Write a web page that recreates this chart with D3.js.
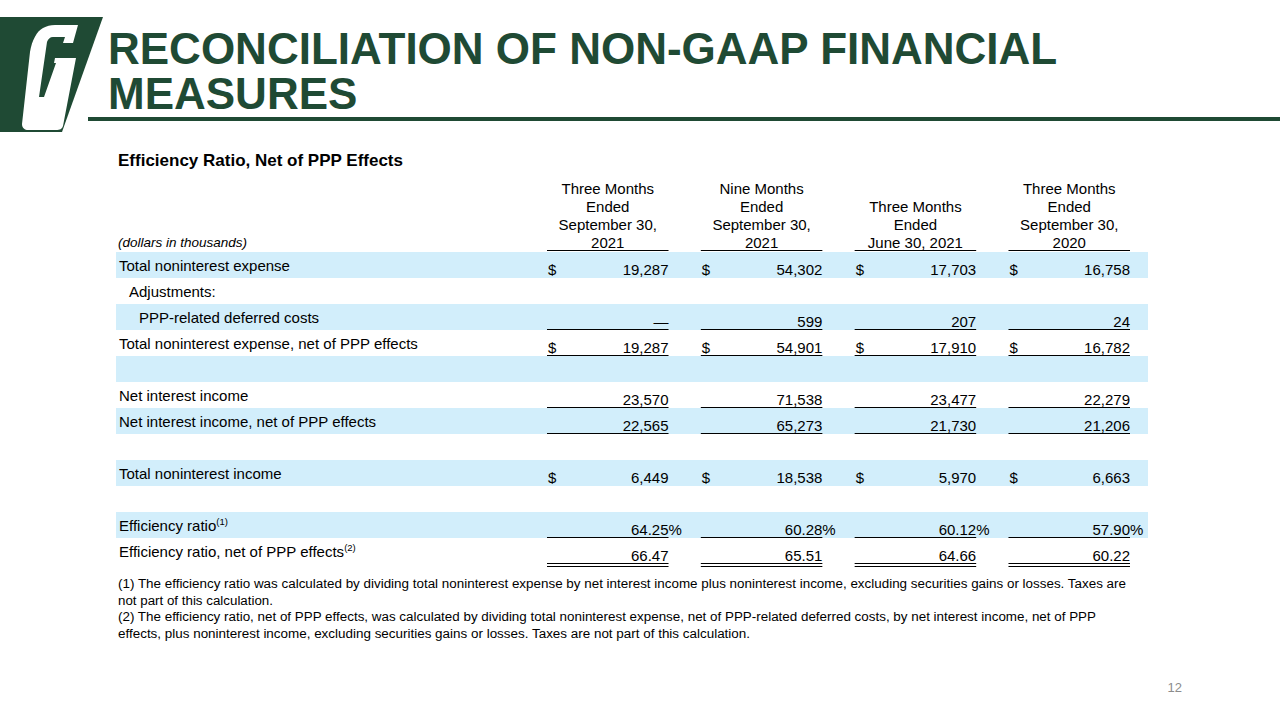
<!DOCTYPE html>
<html lang="en">
<head>
    <meta charset="UTF-8">
    <script src="https://d3js.org/d3.v7.min.js"></script>
    <style>
        body { margin: 0; background: #fff; font-family: "Liberation Sans", Arial, sans-serif; }
    </style>
</head>
<body>
    <svg id="chart" width="1280" height="720"></svg>
    <script>
        // column headers
        const periods = [
            ["Three Months", "Ended", "September 30,", "2021"],
            ["Nine Months", "Ended", "September 30,", "2021"],
            ["Three Months", "Ended", "June 30, 2021"],
            ["Three Months", "Ended", "September 30,", "2020"]
        ];

        const rowLabels = [
            "Total noninterest expense",
            "Adjustments:",
            "PPP-related deferred costs",
            "Total noninterest expense, net of PPP effects",
            "",
            "Net interest income",
            "Net interest income, net of PPP effects",
            "",
            "Total noninterest income",
            "",
            "Efficiency ratio",
            "Efficiency ratio, net of PPP effects"
        ];

        // dollars in thousands
        const totalNoninterestExpense = [19287, 54302, 17703, 16758];
        const pppDeferredCosts = [null, 599, 207, 24];
        const totalExpenseNetPPP = [19287, 54901, 17910, 16782];
        const netInterestIncome = [23570, 71538, 23477, 22279];
        const netInterestIncomeNetPPP = [22565, 65273, 21730, 21206];
        const totalNoninterestIncome = [6449, 18538, 5970, 6663];
        const efficiencyRatio = [64.25, 60.28, 60.12, 57.90];
        const efficiencyRatioNetPPP = [66.47, 65.51, 64.66, 60.22];

        const footnotes = [
            "(1) The efficiency ratio was calculated by dividing total noninterest expense by net interest income plus noninterest income, excluding securities gains or losses. Taxes are",
            "not part of this calculation.",
            "(2) The efficiency ratio, net of PPP effects, was calculated by dividing total noninterest expense, net of PPP-related deferred costs, by net interest income, net of PPP",
            "effects, plus noninterest income, excluding securities gains or losses. Taxes are not part of this calculation."
        ];

        const green = "#1f4a34";
        const blue = "#d2eefb";
        const font = "'Liberation Sans', Arial, sans-serif";

        const rows = [
            { values: totalNoninterestExpense, dollar: true },
            { indent: 10 },
            { indent: 20, values: pppDeferredCosts, under: 1 },
            { values: totalExpenseNetPPP, dollar: true, under: 1 },
            {},
            { values: netInterestIncome, under: 1 },
            { values: netInterestIncomeNetPPP, under: 1 },
            {},
            { values: totalNoninterestIncome, dollar: true },
            {},
            { values: efficiencyRatio, pct: true, under: 1, sup: "(1)" },
            { values: efficiencyRatioNetPPP, ratio: true, under: 2, sup: "(2)" }
        ].map((r, i) => ({ label: rowLabels[i], ...r }));

        const svg = d3.select("#chart");

        // logo
        const logo = svg.append("g");
        logo.append("path")
            .attr("d", "M0,17 L103,17 L62,132 L0,132 Z")
            .attr("fill", green);
        logo.append("path")
            .attr("d", "M43,28 C47,26 50,25 55,25 L78,25 L73,43 L63,43 L65,37 L53,37 C50,37 48,39 47,42 L39,97 L44,97 L56,63 L54,63 L55,58 L76,58 L63,126 C62,129 60,130 56,130 L28,130 C25,130 22,128 22,124 L30,52 C32,40 37,31 43,28 Z")
            .attr("fill", "#fff");

        // title
        svg.append("text")
            .attr("x", 108).attr("y", 64)
            .style("font", `bold 44px ${font}`)
            .attr("fill", green)
            .text("RECONCILIATION OF NON-GAAP FINANCIAL");
        svg.append("text")
            .attr("x", 108).attr("y", 109)
            .style("font", `bold 44px ${font}`)
            .attr("fill", green)
            .text("MEASURES");
        svg.append("rect")
            .attr("x", 88).attr("y", 117)
            .attr("width", 1192).attr("height", 4)
            .attr("fill", green);

        svg.append("text")
            .attr("x", 118).attr("y", 166)
            .style("font", `bold 17px ${font}`)
            .text("Efficiency Ratio, Net of PPP Effects");

        svg.append("text")
            .attr("x", 118).attr("y", 247)
            .style("font", `italic 13.5px ${font}`)
            .text("(dollars in thousands)");

        // scales
        const y = d3.scaleBand()
            .domain(d3.range(rows.length))
            .range([252, 564]);

        const x = d3.scaleBand()
            .domain(d3.range(periods.length))
            .range([547, 1130])
            .paddingInner(0.21);

        // header
        const lineH = 18;
        periods.forEach((lines, c) => {
            const cx = x(c) + x.bandwidth() / 2;
            lines.forEach((t, k) => {
                svg.append("text")
                    .attr("x", cx)
                    .attr("y", 248 - (lines.length - 1 - k) * lineH)
                    .attr("text-anchor", "middle")
                    .style("font", `15px ${font}`)
                    .text(t);
            });
            svg.append("line")
                .attr("x1", x(c)).attr("x2", x(c) + x.bandwidth())
                .attr("y1", 250.5).attr("y2", 250.5)
                .attr("stroke", "#000").attr("stroke-width", 1.2);
        });

        // row bands
        svg.selectAll("rect.band")
            .data(rows.filter((r, i) => i % 2 === 0).map((r, k) => k * 2))
            .enter().append("rect")
            .attr("class", "band")
            .attr("x", 116)
            .attr("width", 1148 - 116)
            .attr("y", i => y(i))
            .attr("height", y.bandwidth())
            .attr("fill", blue);

        const numFmt = d3.format(",");
        const decFmt = d3.format(".2f");

        rows.forEach((r, i) => {
            const bottom = y(i) + y.bandwidth();
            if (r.label) {
                const t = svg.append("text")
                    .attr("x", 119 + (r.indent || 0))
                    .attr("y", bottom - 7)
                    .style("font", `15px ${font}`)
                    .text(r.label);
                if (r.sup) {
                    t.append("tspan")
                        .attr("dy", -6)
                        .style("font-size", "9.5px")
                        .text(r.sup);
                }
            }
            if (!r.values) return;
            r.values.forEach((v, c) => {
                const x0 = x(c), x1 = x(c) + x.bandwidth();
                if (r.dollar) {
                    svg.append("text")
                        .attr("x", x0 + 1).attr("y", bottom - 3)
                        .style("font", `15px ${font}`)
                        .text("$");
                }
                let s;
                if (v === null) s = "\u2014";
                else if (r.pct || r.ratio) s = decFmt(v);
                else s = numFmt(v);
                const t = svg.append("text")
                    .attr("x", x1).attr("y", bottom - 3)
                    .style("font", `15px ${font}`);
                t.text(s);
                const w = t.node().getComputedTextLength();
                t.attr("x", x1 - w);
                if (r.pct) t.append("tspan").text("%");
                if (r.under) {
                    svg.append("line")
                        .attr("x1", x0).attr("x2", x1)
                        .attr("y1", bottom - 0.5).attr("y2", bottom - 0.5)
                        .attr("stroke", "#000").attr("stroke-width", 1.2);
                }
                if (r.under === 2) {
                    svg.append("line")
                        .attr("x1", x0).attr("x2", x1)
                        .attr("y1", bottom + 2.5).attr("y2", bottom + 2.5)
                        .attr("stroke", "#000").attr("stroke-width", 1.2);
                }
            });
        });

        // footnotes
        const fnWidths = [1008, 155, 978, 632];
        footnotes.forEach((f, k) => {
            svg.append("text")
                .attr("x", 118)
                .attr("y", 588 + k * 16.7)
                .attr("textLength", fnWidths[k])
                .attr("lengthAdjust", "spacingAndGlyphs")
                .style("font", `12.5px ${font}`)
                .text(f);
        });

        svg.append("text")
            .attr("x", 1182).attr("y", 692)
            .attr("text-anchor", "end")
            .style("font", `13px ${font}`)
            .attr("fill", "#8c8c8c")
            .text("12");
    </script>
</body>
</html>
